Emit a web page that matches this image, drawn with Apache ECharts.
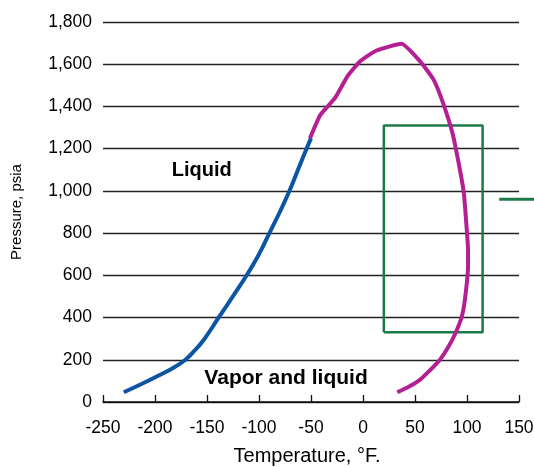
<!DOCTYPE html>
<html>
<head>
<meta charset="utf-8">
<script src="https://cdn.jsdelivr.net/npm/echarts@6/dist/echarts.min.js"></script>
<style>
html,body{margin:0;padding:0;background:#fff;}
#chart{width:534px;height:467px;}
</style>
</head>
<body>
<div id="chart"></div>
<script>
// Bubble-point curve (blue)
const bubbleT = [-230, -213, -195, -183, -171, -162, -153, -139, -125, -112, -100, -90, -80, -71, -60, -50];
const bubbleP = [46, 85, 129, 160, 199, 243, 295, 398, 501, 599, 700, 800, 900, 997, 1131, 1250];
// Dew-point curve (magenta)
const dewT = [-51, -41, -27, -15, -3, 13, 37, 55, 68, 77, 86, 92, 97, 100, 101, 101, 98, 95, 89, 82, 74, 65, 55, 44, 33];
const dewP = [1249, 1360, 1439, 1542, 1613, 1665, 1697, 1613, 1526, 1416, 1274, 1131, 989, 801, 720, 643, 485, 405, 327, 260, 200, 153, 106, 72, 46];
// Green rectangle corners (temperature and pressure ranges)
const boxT = [20, 115];
const boxP = [330, 1310];
// Green leader line (runs off the right edge)
const leaderT = [131, 170];
const leaderP = [960, 960];
// Region labels
const regionNames = ['Liquid', 'Vapor and liquid'];
const regionT = [-155, -74];
const regionP = [1095, 112];
// Axis ticks
const xMin = -250, xMax = 150, xStep = 50;
const yMin = 0, yMax = 1800, yStep = 200;

const FONT = '"Liberation Sans", Arial, sans-serif';
const GRID_L = 103, GRID_R = 15, W = 534;
const plotW = W - GRID_L - GRID_R;
const extMax = xMin + (xMax - xMin) * (W - GRID_L) / plotW;

const bubbleData = bubbleT.map((t, i) => [t, bubbleP[i]]);
const dewData = dewT.map((t, i) => [t, dewP[i]]);
const boxData = [[boxT[0], boxP[0]], [boxT[0], boxP[1]], [boxT[1], boxP[1]], [boxT[1], boxP[0]], [boxT[0], boxP[0]]];
const leaderData = leaderT.map((t, i) => [t, leaderP[i]]);
const regionSizes = [20, 21];
const regionData = regionNames.map((n, i) => ({
  value: [regionT[i], regionP[i]], name: n,
  label: { fontSize: regionSizes[i] }
}));

const chart = echarts.init(document.getElementById('chart'), null, { renderer: 'canvas' });
chart.setOption({
  animation: false,
  backgroundColor: '#ffffff',
  grid: [
    { left: GRID_L, right: GRID_R, top: 22, bottom: 65, containLabel: false, outerBoundsMode: 'none' },
    { left: GRID_L, right: 0, top: 22, bottom: 65, containLabel: false, outerBoundsMode: 'none' }
  ],
  xAxis: [{
    type: 'value', min: xMin, max: xMax, interval: xStep, gridIndex: 0,
    name: 'Temperature, °F.', nameLocation: 'middle', nameGap: 44,
    nameTextStyle: { fontFamily: FONT, fontSize: 20, color: '#000', padding: [0, 8, 0, 0] },
    axisLine: { show: true, onZero: false, lineStyle: { color: '#111', width: 1.5 } },
    axisTick: { show: true, inside: true, length: 7, lineStyle: { color: '#111', width: 1.3 } },
    axisLabel: { fontFamily: FONT, fontSize: 17.5, color: '#000', margin: 17 },
    splitLine: { show: false }
  }, {
    type: 'value', min: xMin, max: extMax, gridIndex: 1, show: false
  }],
  yAxis: [{
    type: 'value', min: yMin, max: yMax, interval: yStep, gridIndex: 0,
    name: 'Pressure, psia', nameLocation: 'middle', nameGap: 79, nameRotate: 90,
    nameTextStyle: { fontFamily: FONT, fontSize: 15, color: '#000' },
    axisLine: { show: false },
    axisTick: { show: false },
    axisLabel: { fontFamily: FONT, fontSize: 17.5, color: '#000', margin: 11,
      formatter: v => v.toLocaleString('en-US') },
    splitLine: { show: true, lineStyle: { color: '#222', width: 1.3 } }
  }, {
    type: 'value', min: yMin, max: yMax, gridIndex: 1, show: false
  }],
  series: [
    { type: 'line', data: bubbleData, smooth: 0.4, showSymbol: false,
      lineStyle: { color: '#0b55a3', width: 4 }, z: 3 },
    { type: 'line', data: dewData, smooth: 0.15, showSymbol: false,
      lineStyle: { color: '#b41f94', width: 4 }, z: 3 },
    { type: 'line', data: boxData, showSymbol: false,
      lineStyle: { color: '#1d7a48', width: 2.5 }, z: 2 },
    { type: 'line', data: leaderData, showSymbol: false, xAxisIndex: 1, yAxisIndex: 1,
      lineStyle: { color: '#1d7a48', width: 3 }, z: 2 },
    { type: 'scatter', data: regionData, symbolSize: 0, z: 4,
      itemStyle: { opacity: 1 },
      label: { show: true, position: 'inside', formatter: p => p.name,
        fontFamily: FONT, fontSize: 20, fontWeight: 'bold', color: '#000', opacity: 1,
        textBorderWidth: 0, textBorderColor: 'transparent' } }
  ]
});
</script>
</body>
</html>
